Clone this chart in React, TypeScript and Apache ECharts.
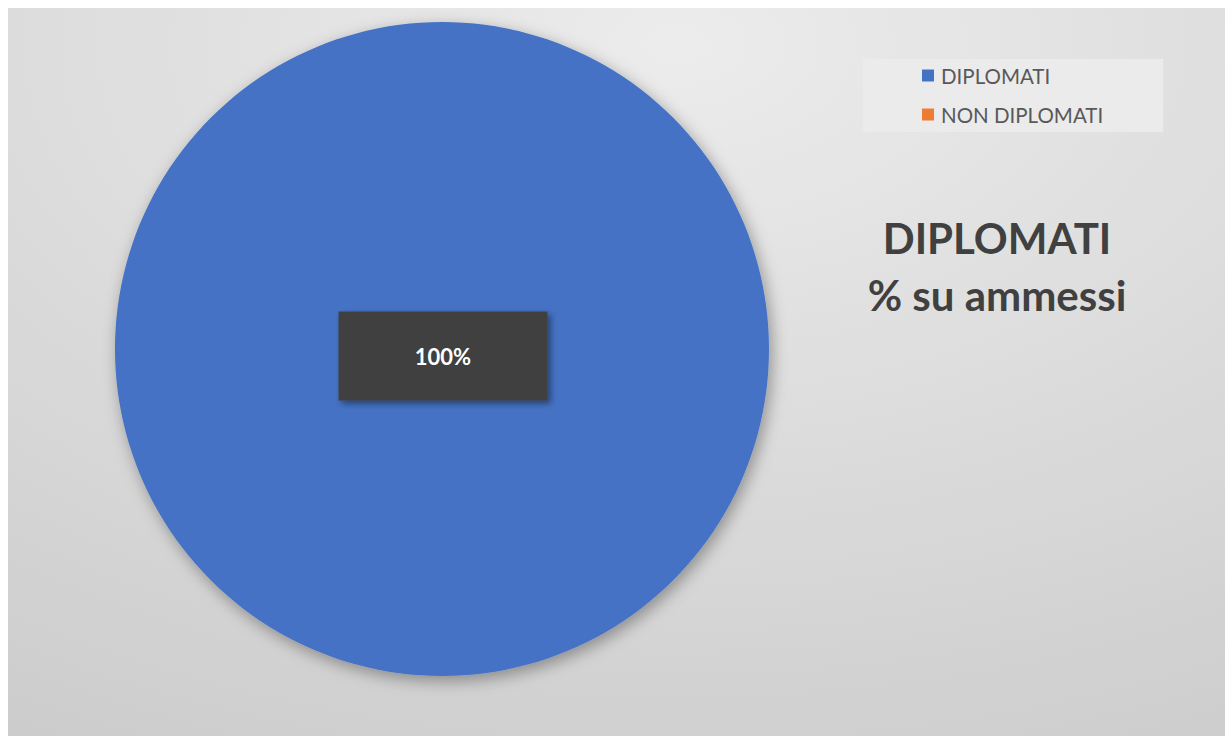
import React, { useEffect, useRef } from "react";
import * as echarts from "echarts";

const categories = ["DIPLOMATI", "NON DIPLOMATI"];
const values = [100, 0];
const colors = ["#4472C4", "#ED7D31"];
const titleLines = ["DIPLOMATI", "% su ammessi"];

export default function App() {
  const ref = useRef<HTMLDivElement>(null);
  useEffect(() => {
    if (!ref.current) return;
    const chart = echarts.init(ref.current, null, { renderer: "svg" });
    const data = categories.map((name, i) => ({
      name,
      value: values[i],
      itemStyle: { color: colors[i] },
      label: { show: values[i] > 0 },
    }));
    chart.setOption({
      animation: false,
      backgroundColor: new echarts.graphic.RadialGradient(0.55, 0.05, 1.3, [
        { offset: 0, color: "#ececec" },
        { offset: 1, color: "#c6c6c6" },
      ]),
      title: {
        text: titleLines.join("\n"),
        left: 984,
        top: 196,
        textAlign: "center",
        textStyle: {
          fontFamily: "Lato",
          fontSize: 42,
          fontWeight: "bold",
          lineHeight: 57,
          color: "#404040",
        },
      },
      legend: {
        orient: "vertical",
        left: 855,
        top: 51,
        padding: [6, 60, 7, 59],
        backgroundColor: "#ebebeb",
        itemWidth: 12,
        itemHeight: 12,
        itemGap: 18,
        icon: "rect",
        data: categories,
        textStyle: {
          fontFamily: "Lato",
          fontSize: 20.5,
          lineHeight: 20,
          color: "#595959",
          padding: [0, 0, 0, 2],
        },
      },
      series: [
        {
          type: "pie",
          center: [434, 341],
          radius: 327,
          startAngle: 90,
          clockwise: true,
          avoidLabelOverlap: false,
          itemStyle: {
            borderWidth: 0,
            shadowBlur: 16,
            shadowOffsetX: 3,
            shadowOffsetY: 5,
            shadowColor: "rgba(0,0,0,0.35)",
          },
          emphasis: { disabled: true },
          label: {
            position: "center",
            formatter: "{d}%",
            offset: [1, 7],
            fontFamily: "Lato",
            fontSize: 22,
            fontWeight: "bold",
            color: "#ffffff",
            backgroundColor: "#404040",
            width: 209,
            align: "center",
            lineHeight: 19,
            padding: [35, 0, 35, 0],
            shadowBlur: 6,
            shadowOffsetX: 3,
            shadowOffsetY: 3,
            shadowColor: "rgba(0,0,0,0.45)",
          },
          labelLine: { show: false },
          data,
        },
      ],
    });
    return () => chart.dispose();
  }, []);
  return (
    <div
      ref={ref}
      style={{ position: "absolute", left: 8, top: 8, width: 1217, height: 728 }}
    />
  );
}
